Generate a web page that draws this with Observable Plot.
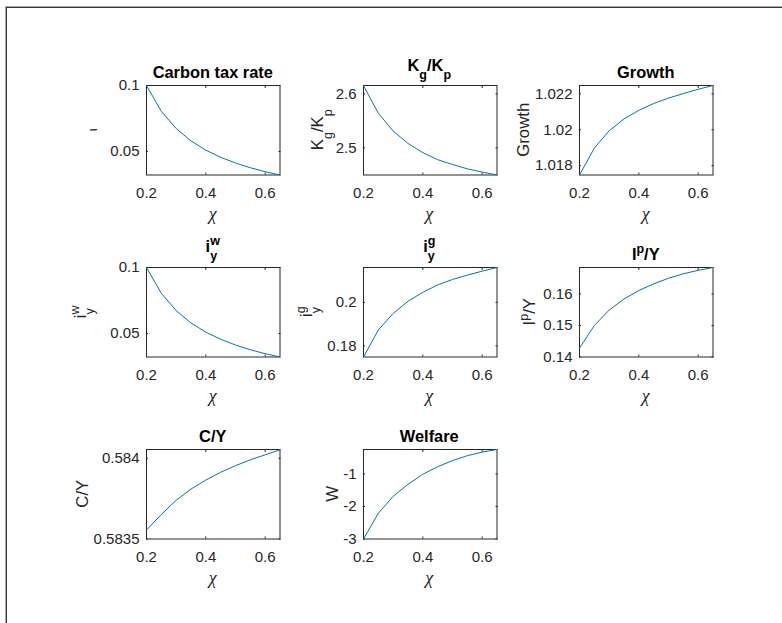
<!DOCTYPE html>
<html><head><meta charset="utf-8">
<script src="https://cdn.jsdelivr.net/npm/d3@7"></script>
<script src="https://cdn.jsdelivr.net/npm/@observablehq/plot@0.6"></script>
<style>
html,body{margin:0;padding:0;background:#fff;}
#fig{position:relative;width:782px;height:623px;overflow:hidden;background:#fff;font-family:"Liberation Sans",Arial,sans-serif;}
#border{position:absolute;left:5px;top:6px;width:900px;height:900px;border-top:1px solid #a8a8a8;border-left:1px solid #a8a8a8;}
#border2{position:absolute;left:6px;top:7px;width:900px;height:900px;border-top:1px solid #3a3a3a;border-left:1px solid #3a3a3a;}
.panel{position:absolute;}
#overlay{position:absolute;left:0;top:0;pointer-events:none;}
</style></head>
<body><div id="fig"><div id="border"></div><div id="border2"></div></div>
<script>
// ---- data ----
const chi = [0.2, 0.25, 0.3, 0.35, 0.4, 0.45, 0.5, 0.55, 0.6, 0.65];
const carbonTax = [0.1, 0.0804, 0.0674, 0.0580, 0.0510, 0.0456, 0.0413, 0.0377, 0.0347, 0.0322];
const kgKp = [2.615, 2.564, 2.531, 2.508, 2.491, 2.478, 2.469, 2.461, 2.455, 2.4496];
const growth = [1.01748, 1.01898, 1.01994, 1.02060, 1.02108, 1.02146, 1.02176, 1.02201, 1.02225, 1.02246];
const iyw = [0.1, 0.0804, 0.0674, 0.0580, 0.0510, 0.0456, 0.0413, 0.0377, 0.0347, 0.0322];
const iyg = [0.1749, 0.1873, 0.1949, 0.2005, 0.2046, 0.2080, 0.2105, 0.2125, 0.2143, 0.2160];
const ipY = [0.1428, 0.1500, 0.1549, 0.1584, 0.1611, 0.1632, 0.1650, 0.1664, 0.1675, 0.1684];
const cY = [0.583556, 0.583652, 0.58374, 0.583809, 0.583865, 0.583913, 0.583954, 0.58399, 0.584021, 0.584052];
const welfare = [-3.0, -2.21, -1.69, -1.32, -1.01, -0.78, -0.59, -0.44, -0.33, -0.25];

const xTicks = [0.2, 0.4, 0.6];
const yTicksList = [[0.05, 0.1], [2.5, 2.6], [1.018, 1.02, 1.022], [0.05, 0.1], [0.18, 0.2], [0.14, 0.15, 0.16], [0.5835, 0.584], [-3, -2, -1]];
const yDomains = [[0.0322, 0.1], [2.4496, 2.6154], [1.01748, 1.02246], [0.0322, 0.1], [0.1749, 0.216], [0.14, 0.1684], [0.5835, 0.584054], [-3, -0.25]];
const series = [carbonTax, kgKp, growth, iyw, iyg, ipY, cY, welfare];

// ---- layout ----
const FW = 133.5, FH = 89.5;
const ML = 80, MR = 10, MT = 10, MB = 40;
const leftX = c => 146 + 216.5 * c;
const topY = r => 85 + 182 * r;
const fmt = d => String(d);
const INK = "#262626";
const fig = document.getElementById("fig");

series.forEach((vals, i) => {
  const r = Math.floor(i / 3), c = i % 3;
  const data = chi.map((x, k) => ({x, y: vals[k]}));
  const chart = Plot.plot({
    width: ML + FW + MR, height: MT + FH + MB,
    marginLeft: ML, marginRight: MR, marginTop: MT, marginBottom: MB,
    style: {fontFamily: '"Liberation Sans", Arial, sans-serif', fontSize: "15px", color: INK, background: "none", overflow: "visible"},
    x: {domain: [0.2, 0.65]},
    y: {domain: yDomains[i]},
    marks: [
      Plot.frame({stroke: INK}),
      Plot.axisX({anchor: "bottom", ticks: xTicks, tickSize: -2, tickPadding: 14.6, tickFormat: fmt, label: null}),
      Plot.axisX({anchor: "top", ticks: xTicks, tickSize: -2, tickFormat: () => "", label: null}),
      Plot.axisY({anchor: "left", ticks: yTicksList[i], tickSize: -2, tickPadding: 9, tickFormat: fmt, label: null}),
      Plot.axisY({anchor: "right", ticks: yTicksList[i], tickSize: -2, tickFormat: () => "", label: null}),
      Plot.line(data, {x: "x", y: "y", stroke: "#0072BD", strokeWidth: 1})
    ]
  });
  const wrap = document.createElement("div");
  wrap.className = "panel";
  wrap.style.left = (leftX(c) - ML) + "px";
  wrap.style.top = (topY(r) - MT) + "px";
  wrap.appendChild(chart);
  fig.appendChild(wrap);
});

// ---- titles & labels (text overlay) ----
const svg = d3.select(fig).append("svg").attr("id", "overlay").attr("width", 782).attr("height", 623)
  .attr("font-family", '"Liberation Sans", Arial, sans-serif');

function rich(x, y, parts, {size, weight = "normal", rotate = false, fill = "#000", family = null, italic = false}) {
  const t = svg.append("text")
    .attr("transform", rotate ? `translate(${x},${y}) rotate(-90)` : `translate(${x},${y})`)
    .attr("text-anchor", "middle").attr("font-size", size).attr("font-weight", weight).attr("fill", fill);
  if (family) t.attr("font-family", family);
  if (italic) t.attr("font-style", "italic");
  let cur = 0, prevLen = 0;
  for (const p of parts) {
    const ts = t.append("tspan").text(p.t);
    if (p.size) ts.attr("font-size", p.size);
    const s = (p.shift || 0) - cur;
    if (s) ts.attr("dy", s);
    cur = p.shift || 0;
    if (p.back) ts.attr("dx", -prevLen);
    prevLen = ts.node().getComputedTextLength();
  }
  return t;
}
const TS = 16.4, LS = 16.8, SS = 12.5;
const cx = c => leftX(c) + FW / 2;
const cy = r => topY(r) + FH / 2;

// titles
rich(cx(0), 78, [{t: "Carbon tax rate"}], {size: TS, weight: "bold"});
rich(cx(1), 70.5, [{t: "K"}, {t: "g", size: SS, shift: 8.5}, {t: "/K"}, {t: "p", size: SS, shift: 8.5}], {size: TS, weight: "bold"});
rich(cx(2), 78, [{t: "Growth"}], {size: TS, weight: "bold"});
rich(cx(0), 252, [{t: "i"}, {t: "w", size: SS, shift: -7}, {t: "y", size: SS, shift: 8, back: true}], {size: TS, weight: "bold"});
rich(cx(1), 252, [{t: "i"}, {t: "g", size: SS, shift: -7}, {t: "y", size: SS, shift: 8, back: true}], {size: TS, weight: "bold"});
rich(cx(2), 260, [{t: "I"}, {t: "p", size: SS, shift: -7}, {t: "/Y"}], {size: TS, weight: "bold"});
rich(cx(0), 442, [{t: "C/Y"}], {size: TS, weight: "bold"});
rich(cx(1), 442, [{t: "Welfare"}], {size: TS, weight: "bold"});

// x labels
for (let i = 0; i < 8; i++) {
  const r = Math.floor(i / 3), c = i % 3;
  rich(cx(c), topY(r) + FH + 45, [{t: "χ"}], {size: 18, fill: INK, italic: true, family: '"Liberation Serif", "DejaVu Serif", serif'});
}

// y labels (rotated)
rich(97, cy(0), [{t: "ι"}], {size: 13, rotate: true, fill: INK});
rich(323, cy(0), [{t: "K"}, {t: "g", size: SS, shift: 8.5}, {t: "/K"}, {t: "p", size: SS, shift: 8.5}], {size: LS, rotate: true, fill: INK});
rich(529, cy(0), [{t: "Growth"}], {size: LS, rotate: true, fill: INK});
rich(86, cy(1), [{t: "i"}, {t: "w", size: SS, shift: -7}, {t: "y", size: SS, shift: 8, back: true}], {size: LS, rotate: true, fill: INK});
rich(312, cy(1), [{t: "i"}, {t: "g", size: SS, shift: -7}, {t: "y", size: SS, shift: 8, back: true}], {size: LS, rotate: true, fill: INK});
rich(535, cy(1), [{t: "I"}, {t: "p", size: SS, shift: -7}, {t: "/Y"}], {size: LS, rotate: true, fill: INK});
rich(88, cy(2), [{t: "C/Y"}], {size: LS, rotate: true, fill: INK});
rich(338, cy(2), [{t: "W"}], {size: LS, rotate: true, fill: INK});
</script>
</body></html>
